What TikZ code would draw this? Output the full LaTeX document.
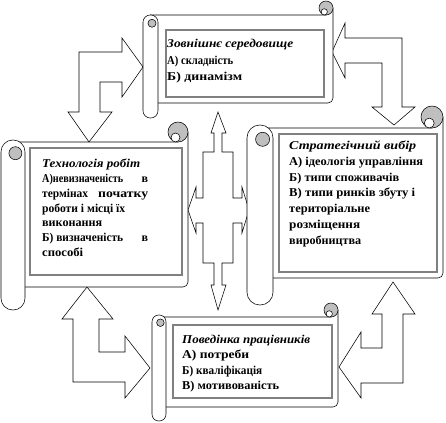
\documentclass[tikz,border=0pt]{standalone}
\usepackage{fontspec}
\usepackage{graphicx}
\setmainfont{Liberation Serif}
\tikzset{
  outl/.style={draw=black, line width=0.55pt},
  blockarrow/.style={draw=black, line width=0.55pt, fill=white, line join=miter},
  innerbox/.style={draw=black!50, line width=1.3pt},
  txt/.style={anchor=north west, inner sep=0pt, align=left, font=\fontsize{12}{15}\selectfont\bfseries}
}
% a line of text scaled horizontally to a given width (in pt)
\newcommand\fl[2]{\resizebox{#1pt}{\height}{#2}}
% #1 L, #2 R, #3 body top, #4 body bottom, #5 roll top, #6 roll bottom, #7 roll width, #8 curl radius
\newcommand\myscroll[8]{%
  \pgfmathsetlengthmacro\myrr{#7/2-0.2}%
  \draw[outl, fill=white] ({#1+#7/2},#3) -- ({#2-#8},#3) -- ({#2-#8},{#3-#8}) -- (#2,{#3-#8})
     {[rounded corners=5pt] -- (#2,#4) -- ({#1+#7/2},#4)} -- cycle;
  \draw[outl, fill=black!25] ({#2-#8},{#3-#8}) circle[radius=#8];
  \draw[outl, fill=white] ({#2-#8*1.25},{#3-#8*0.45}) circle[radius=#8*0.45];
  \draw[outl, fill=white, rounded corners=\myrr] (#1,#5) rectangle ({#1+#7},#6);
  \draw[outl, fill=black!25] ({#1+#7*0.6},{#5+#7*0.55}) circle[radius=#7*0.27];
}
\begin{document}
\begin{tikzpicture}[x=1pt,y=-1pt]
\useasboundingbox (0,0) rectangle (446,422);

% block arrows
\draw[blockarrow] (143,67) -- (122,97) -- (122,82) -- (100,82) -- (100,112) -- (112,112)
  -- (89,142) -- (68,112) -- (79,112) -- (79,52) -- (122,52) -- (122,38) -- cycle;
\draw[blockarrow] (332,52) -- (345,23) -- (345,38) -- (402,38) -- (402,107) -- (415,107)
  -- (394,125) -- (372,107) -- (382,107) -- (382,63) -- (345,63) -- (345,78) -- cycle;
\draw[blockarrow] (87,287) -- (113,319) -- (99,319) -- (99,352) -- (125,352) -- (125,336)
  -- (150,368) -- (125,398) -- (125,382) -- (73,382) -- (73,319) -- (62,319) -- cycle;
\draw[blockarrow] (393,282) -- (415,314) -- (403,314) -- (403,383) -- (361,383) -- (361,398)
  -- (339,367) -- (361,332) -- (361,348) -- (382,348) -- (382,314) -- (372,314) -- cycle;
\draw[blockarrow] (218,112) -- (226,133) -- (222,133) -- (222,152) -- (233,152) -- (233,198)
  -- (242,198) -- (242,187) -- (249,210) -- (242,233) -- (242,223) -- (233,223) -- (233,263)
  -- (222,263) -- (222,285) -- (226,285) -- (218,310) -- (211,285) -- (214,285) -- (214,263)
  -- (203,263) -- (203,223) -- (196,223) -- (196,233) -- (188,210) -- (196,187) -- (196,198)
  -- (203,198) -- (203,152) -- (214,152) -- (214,133) -- (211,133) -- cycle;

% scrolls
\myscroll{143}{333}{15}{103}{15}{118}{15}{7}
\myscroll{1}{188}{142}{287}{140}{310}{24}{10}
\myscroll{247}{443}{128}{278}{125}{305}{26}{11}
\myscroll{152}{338}{317}{407}{315}{421}{14}{7}

% inner boxes
\draw[innerbox] (166,30) rectangle (324,97);
\draw[innerbox] (30,148) rectangle (182,275);
\draw[innerbox] (279,134) rectangle (437,272);
\draw[innerbox] (173,325) rectangle (332,398);

% texts
\node[txt, font=\fontsize{12}{16.5}\selectfont\bfseries] (env) at (167,39)
  {\rule{0pt}{8pt}\fl{126}{\textit{Зовнішнє середовище}}\\\fl{66}{А) складність}\\\fl{75}{Б) динамізм}};
\node[txt, font=\fontsize{12}{14.8}\selectfont\bfseries] (tech) at (42,159)
  {\rule{0pt}{8pt}\fl{98}{\textit{Технологія робіт}}\\
   \makebox[106pt][l]{\fl{81}{А)невизначеність}\hfill в}\\
   \makebox[106pt][l]{\fl{46}{термінах}\hfill\fl{50}{початку}}\\
   \fl{83}{роботи і місці їх}\\
   \fl{60}{виконання}\\
   \makebox[106pt][l]{\fl{81}{Б) визначеність}\hfill в}\\
   \fl{41}{способі}};
\node[txt, font=\fontsize{12}{15.7}\selectfont\bfseries] (strat) at (289,141)
  {\rule{0pt}{8pt}\fl{127}{\textit{Стратегічний вибір}}\\\fl{134}{А) ідеологія управління}\\
   \fl{110}{Б) типи споживачів}\\\fl{126}{В) типи ринків збуту і}\\\fl{81}{територіальне}\\
   \fl{71}{розміщення}\\\fl{72}{виробництва}};
\node[txt, font=\fontsize{12}{15.3}\selectfont\bfseries] (beh) at (182,335)
  {\rule{0pt}{8pt}\fl{128}{\textit{Поведінка працівників}}\\\fl{67}{А) потреби}\\
   \fl{80}{Б) кваліфікація}\\\fl{97}{В) мотивованість}};
\end{tikzpicture}
\end{document}
